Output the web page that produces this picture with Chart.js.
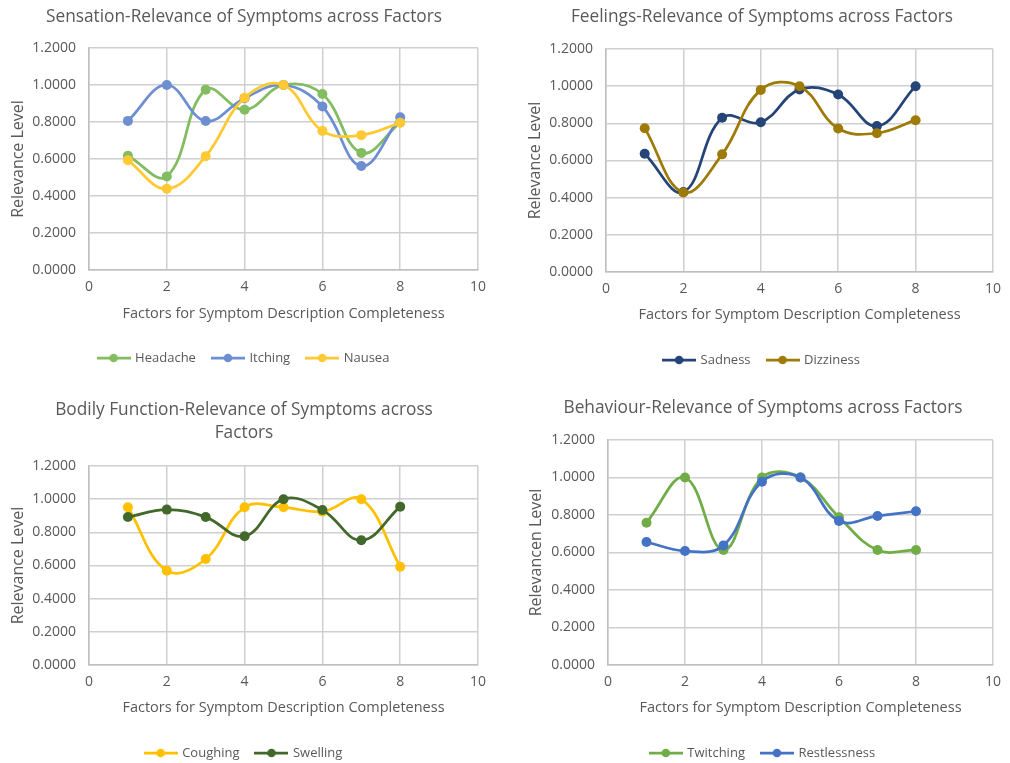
<!DOCTYPE html>
<html>
<head>
<meta charset="utf-8">
<title>Relevance of Symptoms across Factors</title>
<script src="https://cdn.jsdelivr.net/npm/chart.js@4.4.1/dist/chart.umd.min.js"></script>
<style>
  html, body { margin: 0; padding: 0; background: #fff; overflow: hidden; }
  body { width: 1010px; height: 763px; position: relative; }
  .panel { position: absolute; width: 505px; height: 400px; }
  .panel canvas { display: block; }
</style>
</head>
<body>
<div class="panel" style="left:0;top:0"><canvas id="chartSensation"></canvas></div>
<div class="panel" style="left:505px;top:0"><canvas id="chartFeelings"></canvas></div>
<div class="panel" style="left:0;top:380px"><canvas id="chartBodily"></canvas></div>
<div class="panel" style="left:505px;top:380px"><canvas id="chartBehaviour"></canvas></div>

<script>
// ---- data ----
const factors = [1, 2, 3, 4, 5, 6, 7, 8];
const xTicks = [0, 2, 4, 6, 8, 10];
const yTicks = [0, 0.2, 0.4, 0.6, 0.8, 1.0, 1.2];

const headache = [0.618, 0.506, 0.975, 0.866, 1.0, 0.951, 0.633, 0.797];
const itching = [0.806, 1.0, 0.805, 0.929, 1.0, 0.884, 0.562, 0.826];
const nausea = [0.593, 0.439, 0.615, 0.931, 1.0, 0.752, 0.729, 0.796];

const sadness = [0.636, 0.43, 0.83, 0.806, 0.982, 0.955, 0.785, 1.0];
const dizziness = [0.774, 0.428, 0.633, 0.98, 1.0, 0.772, 0.747, 0.817];

const coughing = [0.951, 0.569, 0.639, 0.951, 0.951, 0.925, 1.0, 0.593];
const swelling = [0.892, 0.937, 0.892, 0.776, 1.0, 0.935, 0.752, 0.955];

const twitching = [0.759, 1.0, 0.613, 1.0, 1.0, 0.788, 0.613, 0.613];
const restlessness = [0.656, 0.608, 0.638, 0.978, 1.0, 0.768, 0.795, 0.82];

// ---- look ----
const TEXT_GREY = "#595959";
const GRID_GREY = "#cfcfcf";
const FONT = "'Open Sans', sans-serif";
const PANEL_H = 400;
const TITLE_SIZE = 17.3;
const TITLE_LH = 23;
const TICK_SIZE = 14;
const XTITLE_SIZE = 14.5;
const YTITLE_SIZE = 16;
const LEGEND_FONT = 13;
const LEGEND_PAD = 17;

// little line + dot used in the legend, like Excel
function legendIcon(color) {
  const c = document.createElement("canvas");
  c.width = 34;
  c.height = 10;
  const g = c.getContext("2d");
  g.strokeStyle = color;
  g.lineWidth = 2.75;
  g.beginPath();
  g.moveTo(0, 5);
  g.lineTo(34, 5);
  g.stroke();
  g.fillStyle = color;
  g.beginPath();
  g.arc(17, 5, 4.3, 0, Math.PI * 2);
  g.fill();
  return c;
}

function makeChart(id, title, yTitle, series, geo) {
  const lines = Array.isArray(title) ? title.length : 1;
  const titleTop = geo.titleY - TITLE_LH / 2;
  const titleBottom = geo.plotTop - titleTop - TITLE_LH * lines;
  const legendTop = geo.legendY - LEGEND_FONT / 2 - LEGEND_PAD;
  const legendBottom = legendTop + LEGEND_FONT + LEGEND_PAD + 10;
  const xAxisH = legendTop - geo.plotBottom;
  const yAxisW = geo.plotLeft - geo.pl;

  const datasets = series.map((s, i) => ({
    label: s.label,
    data: factors.map((f, k) => ({ x: f, y: s.values[k] })),
    borderColor: s.color,
    backgroundColor: s.color,
    pointBackgroundColor: s.color,
    pointBorderColor: s.color,
    pointRadius: 5,
    pointBorderWidth: 0,
    borderWidth: 2.75,
    tension: 0.4,
    order: series.length - i, // later series on top, as in Excel
  }));

  const colors = series.map((s) => s.color);

  return new Chart(document.getElementById(id), {
    type: "line",
    data: { datasets: datasets },
    options: {
      responsive: true,
      maintainAspectRatio: false,
      animation: false,
      layout: {
        padding: { left: geo.pl, right: geo.pr, top: 0, bottom: PANEL_H - legendBottom },
      },
      plugins: {
        tooltip: { enabled: false },
        title: {
          display: true,
          text: title,
          color: TEXT_GREY,
          font: { family: FONT, size: TITLE_SIZE, weight: "normal", lineHeight: TITLE_LH + "px" },
          padding: { top: titleTop, bottom: titleBottom },
        },
        legend: {
          position: "bottom",
          labels: {
            usePointStyle: true,
            pointStyleWidth: 30,
            padding: LEGEND_PAD,
            color: TEXT_GREY,
            font: { family: FONT, size: LEGEND_FONT },
            sort: (a, b) => a.datasetIndex - b.datasetIndex,
            generateLabels: (chart) =>
              Chart.defaults.plugins.legend.labels.generateLabels(chart).map((item) => ({
                ...item,
                pointStyle: legendIcon(colors[item.datasetIndex]),
              })),
          },
        },
      },
      scales: {
        x: {
          type: "linear",
          min: 0,
          max: 10,
          afterBuildTicks: (s) => {
            s.ticks = xTicks.map((v) => ({ value: v }));
          },
          afterFit: (s) => {
            s.height = xAxisH;
          },
          grid: { color: GRID_GREY, lineWidth: 1.5, drawTicks: false },
          border: { color: "#bfbfbf", width: 1.5 },
          ticks: {
            padding: 9,
            color: TEXT_GREY,
            font: { family: FONT, size: TICK_SIZE },
          },
          title: {
            display: true,
            text: "Factors for Symptom Description Completeness",
            color: TEXT_GREY,
            font: { family: FONT, size: XTITLE_SIZE },
            padding: { top: 0, bottom: legendTop - geo.xTitleY - XTITLE_SIZE * 0.6 },
          },
        },
        y: {
          type: "linear",
          min: 0,
          max: 1.2,
          afterBuildTicks: (s) => {
            s.ticks = yTicks.map((v) => ({ value: v }));
          },
          afterFit: (s) => {
            s.width = yAxisW;
          },
          grid: { color: GRID_GREY, lineWidth: 1.5, drawTicks: false },
          border: { color: "#bfbfbf", width: 1.5 },
          ticks: {
            padding: 13,
            color: TEXT_GREY,
            font: { family: FONT, size: TICK_SIZE },
            callback: (v) => Number(v).toFixed(4),
          },
          title: {
            display: true,
            text: yTitle,
            color: TEXT_GREY,
            font: { family: FONT, size: YTITLE_SIZE },
            padding: { top: geo.yTitleX - geo.pl - YTITLE_SIZE * 0.6, bottom: 0 },
          },
        },
      },
    },
  });
}

makeChart(
  "chartSensation",
  "Sensation-Relevance of Symptoms across Factors",
  "Relevance Level",
  [
    { label: "Headache", values: headache, color: "#84bc62" },
    { label: "Itching", values: itching, color: "#6d8fd2" },
    { label: "Nausea", values: nausea, color: "#ffc933" },
  ],
  { pl: 10, pr: 27, plotLeft: 89, plotTop: 48, plotBottom: 270, titleY: 17, legendY: 358, xTitleY: 314, yTitleX: 18 }
);

makeChart(
  "chartFeelings",
  "Feelings-Relevance of Symptoms across Factors",
  "Relevance Level",
  [
    { label: "Sadness", values: sadness, color: "#264478" },
    { label: "Dizziness", values: dizziness, color: "#9e7a06" },
  ],
  { pl: 24, pr: 15, plotLeft: 101, plotTop: 49, plotBottom: 272, titleY: 17, legendY: 360, xTitleY: 315, yTitleX: 30 }
);

makeChart(
  "chartBodily",
  ["Bodily Function-Relevance of Symptoms across", "Factors"],
  "Relevance Level",
  [
    { label: "Coughing", values: coughing, color: "#ffc000" },
    { label: "Swelling", values: swelling, color: "#43682b" },
  ],
  { pl: 10, pr: 27, plotLeft: 89, plotTop: 86, plotBottom: 285, titleY: 30, legendY: 373, xTitleY: 328, yTitleX: 18 }
);

makeChart(
  "chartBehaviour",
  "Behaviour-Relevance of Symptoms across Factors",
  "Relevancen Level",
  [
    { label: "Twitching", values: twitching, color: "#70ad47" },
    { label: "Restlessness", values: restlessness, color: "#4472c4" },
  ],
  { pl: 25, pr: 14, plotLeft: 103, plotTop: 60, plotBottom: 285, titleY: 28, legendY: 373, xTitleY: 328, yTitleX: 31 }
);
</script>
</body>
</html>
